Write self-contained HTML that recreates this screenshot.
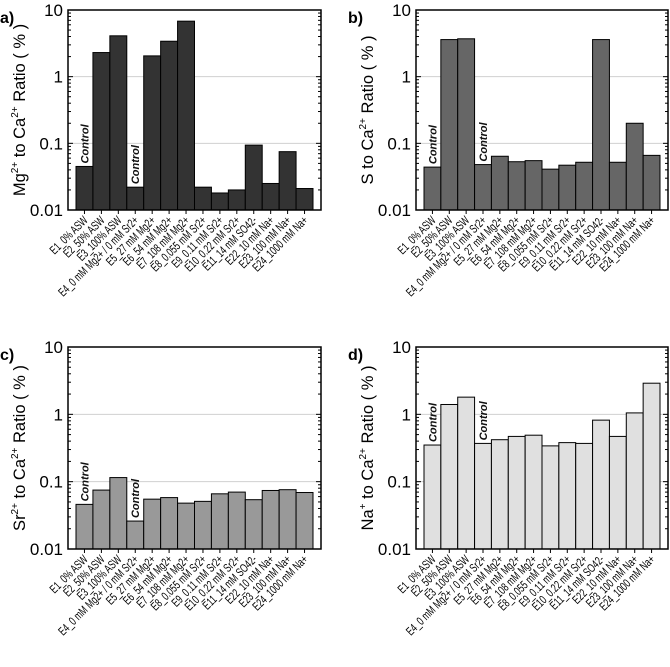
<!DOCTYPE html>
<html><head><meta charset="utf-8">
<style>
html,body{margin:0;padding:0;background:#fff;}
svg{display:block;font-family:"Liberation Sans",Arial,sans-serif;}
</style></head>
<body>
<svg id="fig" width="670" height="667" viewBox="0 0 670 667"></svg>
<script>
const categories = ["E1_0% ASW","E2_50% ASW","E3_100% ASW","E4_0 mM Mg2+ / 0 mM Sr2+","E5_27 mM Mg2+","E6_54 mM Mg2+","E7_108 mM Mg2+","E8_0.055 mM Sr2+","E9_0.11 mM Sr2+","E10_0.22 mM Sr2+","E11_14 mM SO42-","E22_10 mM Na+","E23_100 mM Na+","E24_1000 mM Na+"];
const mgValues = [0.045,2.3,4.1,0.022,2.05,3.4,6.8,0.022,0.018,0.020,0.094,0.025,0.075,0.021];
const sValues = [0.044,3.6,3.7,0.048,0.064,0.053,0.055,0.041,0.047,0.052,3.6,0.052,0.2,0.066];
const srValues = [0.046,0.075,0.115,0.026,0.055,0.058,0.048,0.051,0.066,0.070,0.054,0.074,0.076,0.069];
const naValues = [0.35,1.4,1.8,0.37,0.42,0.47,0.49,0.34,0.38,0.37,0.82,0.47,1.05,2.9];
const yTicks = [0.01,0.1,1,10];
const yTickLabels = ["0.01","0.1","1","10"];
const controlIdx = [0,3];

const NS="http://www.w3.org/2000/svg";
const svg=document.getElementById('fig');
function mk(tag,attrs,parent){const e=document.createElementNS(NS,tag);for(const k in attrs)e.setAttribute(k,attrs[k]);(parent||svg).appendChild(e);return e;}

const panels=[
 {key:"a",vals:mgValues,fill:"#333333",x0:68,x1:321,y0:10,y1:210,ion:"Mg",sup:"2+"},
 {key:"b",vals:sValues,fill:"#666666",x0:416,x1:668,y0:10,y1:210,ion:"S",sup:""},
 {key:"c",vals:srValues,fill:"#999999",x0:68,x1:321,y0:347,y1:549,ion:"Sr",sup:"2+"},
 {key:"d",vals:naValues,fill:"#e0e0e0",x0:416,x1:668,y0:347,y1:549,ion:"Na",sup:"+"}
];

panels.forEach(p=>{
  const g=mk('g',{});
  
  
  const ys=v=>p.y1-(Math.log10(v)+2)/3*(p.y1-p.y0);
  const n=categories.length;
  const bw=(p.x1-p.x0-16)/n;
  const xs=i=>p.x0+8+i*bw;
  [0.1,1].forEach(t=>{
    const l=mk('line',{x1:p.x0,x2:p.x1,y1:ys(t),y2:ys(t),stroke:"#d0d0d0","stroke-width":1},g);
    
    
  });
  p.vals.forEach((v,i)=>{
    const y=ys(v);
    const r=mk('rect',{x:xs(i),y:y,width:bw,height:p.y1-y,fill:p.fill,stroke:"#000","stroke-width":1},g);
    
    
  });
  controlIdx.forEach(i=>{
    const cx=xs(i)+bw/2+4, y=ys(p.vals[i])-3;
    const t=mk('text',{x:cx,y:y,transform:`rotate(-90 ${cx} ${y})`,"font-size":11,"font-weight":"bold","font-style":"italic",fill:"#111"},g);
    t.textContent="Control";
    
    
  });
  const f=mk('rect',{x:p.x0,y:p.y0,width:p.x1-p.x0,height:p.y1-p.y0,fill:"none",stroke:"#000","stroke-width":1.5},g);
  
  
  for(let d=-2;d<=1;d++){
    for(let m=1;m<=9;m++){
      const v=m*Math.pow(10,d); if(v>10)break;
      const y=ys(v), len=(m===1)?5:3;
      mk('line',{x1:p.x0,x2:p.x0+len,y1:y,y2:y,stroke:"#000","stroke-width":1},g);
      mk('line',{x1:p.x1,x2:p.x1-len,y1:y,y2:y,stroke:"#000","stroke-width":1},g);
    }
  }
  yTicks.forEach((t,i)=>{
    const tx=mk('text',{x:p.x0-5,y:ys(t)+6,"text-anchor":"end","font-size":17,fill:"#000"},g);
    tx.textContent=yTickLabels[i];
    
    
  });
  categories.forEach((c,i)=>{
    const cx=xs(i)+bw/2;
    mk('line',{x1:cx,x2:cx,y1:p.y1,y2:p.y1+4,stroke:"#000","stroke-width":1},g);
    const lx=cx+4, ly=p.y1+11;
    const t=mk('text',{x:0,y:0,"text-anchor":"end","font-size":12,fill:"#000",transform:`translate(${lx} ${ly}) rotate(-45) scale(0.7 1)`},g);
    t.textContent=c;
    
    
  });
  const tx=p.x0-43, ty=(p.y0+p.y1)/2;
  const yt=mk('text',{x:tx,y:ty,"text-anchor":"middle","font-size":16.5,fill:"#000",transform:`rotate(-90 ${tx} ${ty})`},g);
  
  
  let html=p.ion;
  if(p.sup) html+=`<tspan font-size="10" dy="-7">${p.sup}</tspan><tspan dy="7"> to Ca</tspan>`; else html+=" to Ca";
  html+=`<tspan font-size="10" dy="-7">2+</tspan><tspan dy="7"> Ratio ( % )</tspan>`;
  yt.innerHTML=html;
  const pl=mk('text',{x:p.x0-68,y:p.y0+13,"font-size":16,"font-weight":"bold",fill:"#000"},g);
  pl.textContent=p.key+")";
  
  
});
</script>
</body></html>
